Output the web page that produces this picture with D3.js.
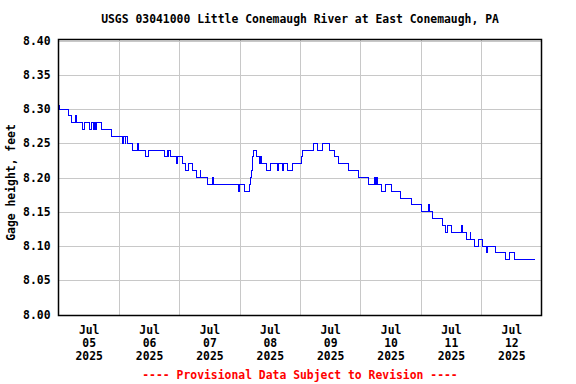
<!DOCTYPE html>
<html>
<head>
<meta charset="utf-8">
<script src="https://cdn.jsdelivr.net/npm/d3@7"></script>
<style>
  body { margin: 0; background: #fff; }
  svg { display: block; }
  text { font-family: "DejaVu Sans Mono", monospace; font-weight: bold; font-size: 11.4px; }
</style>
</head>
<body>
<svg id="chart"></svg>
<script>
// hours since Jul 05 2025 00:00, and gage height (ft) from that point on
const hours = [
  0.0, 0.3, 4.0, 5.0, 6.7, 7.3, 9.7, 10.3, 12.3, 13.0, 13.9, 14.2, 14.6, 15.0, 16.9, 20.9,
  25.5, 26.0, 26.5, 26.8, 27.4, 29.6, 31.5, 31.8, 34.6, 35.7, 42.2, 43.2, 43.6, 43.9, 44.6,
  46.8, 47.3, 49.2, 50.4, 51.8, 53.4, 54.8, 56.3, 56.5, 59.1, 61.3, 61.6, 71.7, 72.0, 74.1,
  76.0, 76.4, 76.7, 77.0, 77.3, 77.7, 78.8, 79.9, 80.2, 80.5, 82.8, 84.2, 87.2, 87.5, 89.1,
  89.4, 90.9, 92.9, 96.5, 97.0, 101.4, 103.0, 105.0, 107.6, 109.9, 111.3, 115.3, 119.2,
  123.3, 125.8, 126.1, 126.6, 127.0, 128.2, 129.8, 132.2, 136.1, 140.3, 144.4, 147.2, 147.4,
  148.6, 152.7, 154.0, 154.6, 156.2, 160.2, 160.4, 162.0, 163.7, 163.9, 165.5, 166.8, 168.5,
  170.2, 170.4, 173.7, 177.8, 179.4, 181.3, 189.3
];
const gageHeight = [
  8.305, 8.30, 8.29, 8.28, 8.29, 8.28, 8.27, 8.28, 8.27, 8.28, 8.27, 8.28, 8.27, 8.28, 8.27, 8.26,
  8.25, 8.26, 8.25, 8.26, 8.25, 8.24, 8.25, 8.24, 8.23, 8.24, 8.23, 8.24, 8.23, 8.24, 8.23,
  8.22, 8.23, 8.22, 8.21, 8.22, 8.21, 8.20, 8.21, 8.20, 8.19, 8.20, 8.19, 8.18, 8.19, 8.18,
  8.19, 8.20, 8.21, 8.22, 8.23, 8.24, 8.23, 8.22, 8.23, 8.22, 8.21, 8.22, 8.21, 8.22, 8.21,
  8.22, 8.21, 8.22, 8.23, 8.24, 8.25, 8.24, 8.25, 8.24, 8.23, 8.22, 8.21, 8.20,
  8.19, 8.20, 8.19, 8.20, 8.19, 8.18, 8.19, 8.18, 8.17, 8.16, 8.15, 8.16, 8.15,
  8.14, 8.13, 8.12, 8.13, 8.12, 8.13, 8.12, 8.11, 8.12, 8.11, 8.10, 8.11, 8.10,
  8.09, 8.10, 8.09, 8.08, 8.09, 8.08, 8.08
];
const dayLabels = ['05', '06', '07', '08', '09', '10', '11', '12'];
const monthLabel = 'Jul';
const yearLabel = '2025';
const yTicks = [8.00, 8.05, 8.10, 8.15, 8.20, 8.25, 8.30, 8.35, 8.40];

const startDate = new Date(2025, 6, 5);
const toDate = (h) => new Date(startDate.getTime() + h * 3600e3);
const data = hours.map((h, i) => ({ t: toDate(h), v: gageHeight[i] }));

const W = 576, H = 384;
const plot = { left: 58.5, right: 541.5, top: 39.5, bottom: 315.5 };

const svg = d3.select('#chart').attr('width', W).attr('height', H);

const x = d3.scaleTime()
  .domain([startDate, new Date(2025, 6, 13)])
  .range([plot.left, plot.right]);
const y = d3.scaleLinear()
  .domain([8.0, 8.4])
  .range([314.5, 40.5]);

// horizontal grid + y labels
const yAxis = svg.append('g')
  .attr('transform', `translate(${plot.left},0)`)
  .call(d3.axisLeft(y).tickValues(yTicks).tickFormat(d3.format('.2f'))
    .tickSize(-(plot.right - plot.left)).tickPadding(8));
yAxis.select('.domain').remove();
yAxis.selectAll('line').attr('stroke', '#c8c8c8').attr('shape-rendering', 'crispEdges');
yAxis.selectAll('text').attr('fill', '#000').style('font-size', '11.4px').style('font-family', '"DejaVu Sans Mono", monospace');

// vertical grid at day boundaries
const dayStarts = dayLabels.slice(1).map((d) => new Date(2025, 6, +d));
const xGrid = svg.append('g')
  .attr('transform', `translate(0,${plot.bottom})`)
  .call(d3.axisBottom(x).tickValues(dayStarts).tickFormat('')
    .tickSize(-(plot.bottom - plot.top)));
xGrid.select('.domain').remove();
xGrid.selectAll('line').attr('stroke', '#c8c8c8').attr('shape-rendering', 'crispEdges');

// day labels centered on each day
const noons = dayLabels.map((d) => new Date(2025, 6, +d, 12));
const xAxis = svg.append('g')
  .attr('transform', `translate(0,${plot.bottom})`)
  .call(d3.axisBottom(x).tickValues(noons).tickSize(0).tickFormat(''));
xAxis.select('.domain').remove();
xAxis.selectAll('.tick').each(function (d, i) {
  const t = d3.select(this).append('text')
    .attr('fill', '#000')
    .attr('text-anchor', 'middle');
  [monthLabel, dayLabels[i], yearLabel].forEach((s, k) => {
    t.append('tspan').attr('x', 0).attr('y', 18 + k * 13).text(s);
  });
});

// data line
svg.append('path')
  .datum(data)
  .attr('fill', 'none')
  .attr('stroke', '#0000ff')
  .attr('stroke-width', 1)
  .attr('shape-rendering', 'crispEdges')
  .attr('d', d3.line().x((d) => x(d.t)).y((d) => y(d.v)).curve(d3.curveStepAfter));

// frame
svg.append('rect')
  .attr('x', plot.left).attr('y', plot.top)
  .attr('width', plot.right - plot.left).attr('height', plot.bottom - plot.top)
  .attr('fill', 'none').attr('stroke', '#000').attr('stroke-width', 1.5);

svg.append('text')
  .attr('x', (plot.left + plot.right) / 2).attr('y', 23)
  .attr('text-anchor', 'middle')
  .text('USGS 03041000 Little Conemaugh River at East Conemaugh, PA');

svg.append('text')
  .attr('transform', `translate(15,${(plot.top + plot.bottom) / 2 + 5}) rotate(-90)`)
  .attr('text-anchor', 'middle')
  .text('Gage height, feet');

svg.append('text')
  .attr('x', (plot.left + plot.right) / 2).attr('y', 379)
  .attr('text-anchor', 'middle')
  .attr('fill', '#ff0000')
  .text('---- Provisional Data Subject to Revision ----');
</script>
</body>
</html>
